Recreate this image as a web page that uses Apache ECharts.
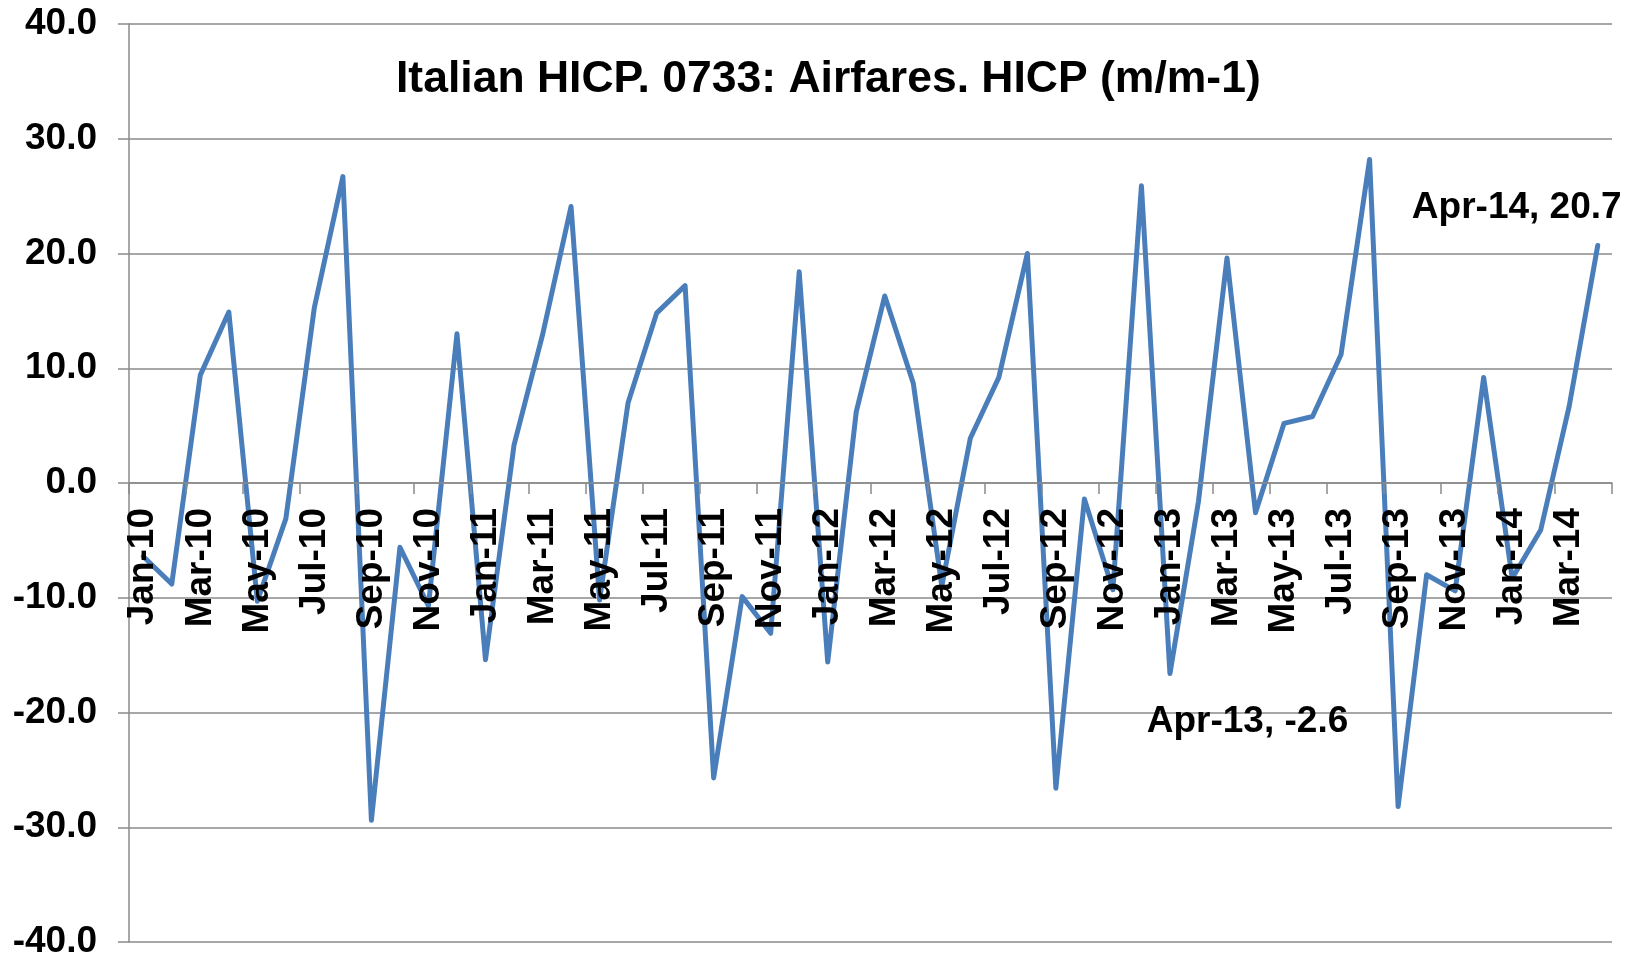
<!DOCTYPE html>
<html>
<head>
<meta charset="utf-8">
<script src="https://cdn.jsdelivr.net/npm/echarts@6/dist/echarts.min.js"></script>
<style>
  html, body { margin: 0; padding: 0; background: #fff; }
  #chart { width: 1633px; height: 957px; }
</style>
</head>
<body>
<div id="chart"></div>
<script>
// months Jan-10 .. Apr-14
const months = [
  "Jan-10", "Feb-10", "Mar-10", "Apr-10", "May-10", "Jun-10", "Jul-10", "Aug-10", "Sep-10", "Oct-10", "Nov-10", "Dec-10",
  "Jan-11", "Feb-11", "Mar-11", "Apr-11", "May-11", "Jun-11", "Jul-11", "Aug-11", "Sep-11", "Oct-11", "Nov-11", "Dec-11",
  "Jan-12", "Feb-12", "Mar-12", "Apr-12", "May-12", "Jun-12", "Jul-12", "Aug-12", "Sep-12", "Oct-12", "Nov-12", "Dec-12",
  "Jan-13", "Feb-13", "Mar-13", "Apr-13", "May-13", "Jun-13", "Jul-13", "Aug-13", "Sep-13", "Oct-13", "Nov-13", "Dec-13",
  "Jan-14", "Feb-14", "Mar-14", "Apr-14"
];

// airfares HICP, m/m-1 change (%)
const airfares = [
  -6.4, -8.8, 9.4, 14.9, -10.3, -3.1, 15.3, 26.7, -29.4, -5.6, -10.7, 13.0,
  -15.4, 3.3, 12.9, 24.1, -10.2, 7.0, 14.8, 17.2, -25.7, -9.9, -13.1, 18.4,
  -15.6, 6.2, 16.3, 8.7, -9.0, 3.9, 9.2, 20.0, -26.6, -1.4, -9.3, 25.9,
  -16.6, -1.6, 19.6, -2.6, 5.2, 5.8, 11.2, 28.2, -28.2, -8.0, -9.4, 9.2,
  -8.3, -4.1, 6.7, 20.7
];

// points carrying a data label: [category, offset from point]
const labelled = [
  ["Apr-13", [-8, 209]],
  ["Apr-14", [-81, -38]]
];

const font = "'Liberation Sans', Arial, sans-serif";
const gridColor = "#8a8a8a";

const seriesData = airfares.map(function (v, i) {
  const hit = labelled.find(function (l) { return l[0] === months[i]; });
  if (!hit) return v;
  return {
    value: v,
    label: {
      show: true,
      position: "inside",
      offset: hit[1],
      formatter: "{b}, {c}",
      color: "#000",
      fontFamily: font,
      fontWeight: "bold",
      fontSize: 37
    }
  };
});

const chart = echarts.init(document.getElementById("chart"));
chart.setOption({
  animation: false,
  backgroundColor: "#fff",
  title: {
    text: "Italian HICP. 0733: Airfares. HICP (m/m-1)",
    left: 396,
    top: 57,
    padding: 0,
    textStyle: { fontFamily: font, fontWeight: "bold", fontSize: 44.5, color: "#000" }
  },
  grid: {
    left: 129, right: 21, top: 24, bottom: 15,
    containLabel: false,
    outerBoundsMode: "none"
  },
  xAxis: {
    type: "category",
    data: months,
    boundaryGap: true,
    position: "bottom",
    // move the axis up to the zero line (grid is symmetric around 0)
    offset: -459,
    z: 5,
    axisLine: { onZero: false, lineStyle: { color: gridColor, width: 1.5 } },
    axisTick: { show: true, interval: 1, length: 11, lineStyle: { color: gridColor, width: 1.5 } },
    axisLabel: {
      interval: 1,
      rotate: 90,
      margin: 25,
      color: "#000",
      fontFamily: font,
      fontWeight: "bold",
      fontSize: 37
    }
  },
  yAxis: {
    type: "value",
    min: -40,
    max: 40,
    interval: 10,
    axisLine: { show: true, lineStyle: { color: gridColor, width: 1.5 } },
    axisTick: { show: true, length: 11, lineStyle: { color: gridColor, width: 1.5 } },
    splitLine: { show: true, lineStyle: { color: gridColor, width: 1.5 } },
    axisLabel: {
      margin: 32,
      color: "#000",
      fontFamily: font,
      fontWeight: "bold",
      fontSize: 37,
      formatter: function (v) { return v.toFixed(1); }
    }
  },
  series: [
    {
      name: "Airfares",
      type: "line",
      data: seriesData,
      symbol: "circle",
      symbolSize: 0,
      showSymbol: true,
      showAllSymbol: true,
      lineStyle: { color: "#4a7ebb", width: 5, join: "round", cap: "round" },
      itemStyle: { color: "#4a7ebb" }
    }
  ]
});
</script>
</body>
</html>
